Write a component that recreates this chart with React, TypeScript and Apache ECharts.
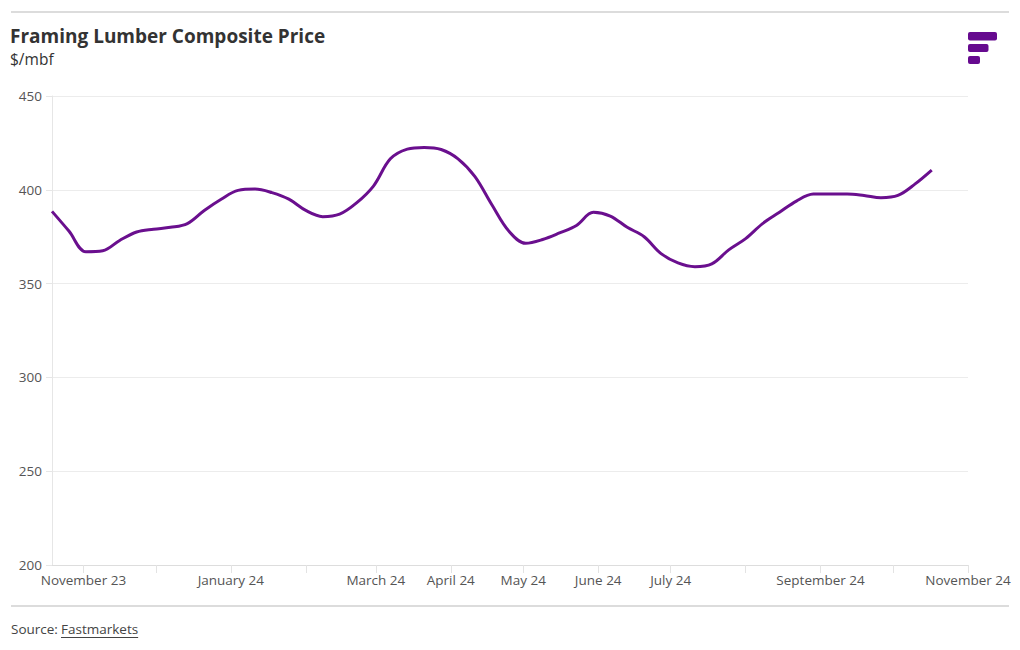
import React, { useEffect, useRef } from "react";
import * as echarts from "echarts";

const dates: string[] = [
  "2023-10-19", "2023-10-26", "2023-11-02", "2023-11-09", "2023-11-16", "2023-11-23", "2023-11-30",
  "2023-12-07", "2023-12-14", "2023-12-21", "2023-12-28", "2024-01-04", "2024-01-11", "2024-01-18",
  "2024-01-25", "2024-02-01", "2024-02-08", "2024-02-15", "2024-02-22", "2024-02-29", "2024-03-07",
  "2024-03-14", "2024-03-21", "2024-03-28", "2024-04-04", "2024-04-11", "2024-04-18", "2024-04-25",
  "2024-05-02", "2024-05-09", "2024-05-16", "2024-05-23", "2024-05-30", "2024-06-06", "2024-06-13",
  "2024-06-20", "2024-06-27", "2024-07-04", "2024-07-11", "2024-07-18", "2024-07-25", "2024-08-01",
  "2024-08-08", "2024-08-15", "2024-08-22", "2024-08-29", "2024-09-05", "2024-09-12", "2024-09-19",
  "2024-09-26", "2024-10-03", "2024-10-10", "2024-10-17",
];

const prices: number[] = [
  388.5, 378, 367, 367.5, 373, 377.5, 379, 380, 382, 389, 395, 399.7, 400.4, 398.5,
  395, 389, 385.7, 387, 393, 402, 416.5, 421.7, 422.6, 421.5, 416.5, 407, 392, 378,
  371.5, 373.5, 377, 381, 388, 386, 380, 375, 366, 361, 359, 360.5, 368, 374,
  382, 388, 394, 397.7, 397.8, 397.8, 397, 395.8, 397, 403, 410.5,
];

const yTicks: number[] = [200, 250, 300, 350, 400, 450];
const monthNames: string[] = [
  "January", "February", "March", "April", "May", "June", "July",
  "August", "September", "October", "November", "December",
];
const hiddenMonths: number[] = [1, 7, 9, 11]; // February, August, October, December

const FONT = "Open Sans";

function measure(text: string, font: string): number {
  const c = document.createElement("canvas").getContext("2d");
  if (!c) return text.length * 7;
  c.font = font;
  return c.measureText(text).width;
}

export default function App() {
  const ref = useRef<HTMLDivElement>(null);

  useEffect(() => {
    if (!ref.current) return;
    const chart = echarts.init(ref.current, undefined, { renderer: "svg" });
    const toTs = (d: string) => new Date(d + "T00:00:00Z").getTime();
    const data = dates.map((d, i) => [toTs(d), prices[i]]);
    const xMin = toTs(dates[0]);
    const xMax = Date.UTC(2024, 10, 1);
    const srcW = measure("Fastmarkets", `13.5px "${FONT}"`);

    chart.setOption({
      animation: false,
      useUTC: true,
      backgroundColor: "#ffffff",
      textStyle: { fontFamily: FONT },
      grid: { left: 52, right: 52, top: 96, bottom: 85, containLabel: false },
      xAxis: {
        type: "time",
        min: xMin,
        max: xMax,
        splitNumber: 12,
        minInterval: 28 * 86400000,
        maxInterval: 31 * 86400000,
        axisLine: { show: true, lineStyle: { color: "#dddddd", width: 1 } },
        axisTick: { show: true, length: 8, lineStyle: { color: "#e3e3e3" } },
        splitLine: { show: false },
        axisLabel: {
          color: "#555555",
          fontSize: 13.5,
          fontFamily: FONT,
          margin: 8,
          hideOverlap: false,
          formatter: (v: number) => {
            const d = new Date(v);
            const m = d.getUTCMonth();
            if (d.getUTCDate() !== 1 || hiddenMonths.indexOf(m) >= 0) return "";
            return monthNames[m] + " " + String(d.getUTCFullYear()).slice(2);
          },
        },
      },
      yAxis: {
        type: "value",
        min: yTicks[0],
        max: yTicks[yTicks.length - 1],
        interval: 50,
        axisLine: { show: true, lineStyle: { color: "#e6e6e6" } },
        axisTick: { show: true, length: 6, lineStyle: { color: "#e6e6e6" } },
        splitLine: { show: true, lineStyle: { color: "#ececec", width: 1 } },
        axisLabel: { color: "#555555", fontSize: 13.5, fontFamily: FONT, margin: 10 },
      },
      series: [
        {
          type: "line",
          data,
          smooth: 0.35,
          showSymbol: false,
          lineStyle: { color: "#6a0f8e", width: 3 },
          itemStyle: { color: "#6a0f8e" },
        },
      ],
      graphic: [
        { type: "line", shape: { x1: 11, y1: 12, x2: 1009, y2: 12 }, style: { stroke: "#dcdcdc", lineWidth: 2 } },
        { type: "line", shape: { x1: 11, y1: 606, x2: 1009, y2: 606 }, style: { stroke: "#dcdcdc", lineWidth: 2 } },
        {
          type: "text",
          x: 10,
          y: 36,
          style: {
            text: "Framing Lumber Composite Price",
            fontFamily: FONT,
            fontWeight: "bold",
            fontSize: 19,
            lineHeight: 19,
            fill: "#333333",
            verticalAlign: "middle",
          },
        },
        {
          type: "text",
          x: 10,
          y: 59,
          style: { text: "$/mbf", fontFamily: FONT, fontSize: 15.5, lineHeight: 16, fill: "#333333", verticalAlign: "middle" },
        },
        { type: "rect", shape: { x: 968, y: 32, width: 29, height: 8.5, r: 2 }, style: { fill: "#660a8f" } },
        { type: "rect", shape: { x: 968, y: 44, width: 20.5, height: 8, r: 2 }, style: { fill: "#660a8f" } },
        { type: "rect", shape: { x: 968, y: 56, width: 12, height: 8, r: 2 }, style: { fill: "#660a8f" } },
        {
          type: "text",
          x: 11,
          y: 629,
          style: { text: "Source: ", fontFamily: FONT, fontSize: 13.5, fill: "#444444", verticalAlign: "middle" },
        },
        {
          type: "text",
          x: 61,
          y: 629,
          style: { text: "Fastmarkets", fontFamily: FONT, fontSize: 13.5, fill: "#444444", verticalAlign: "middle" },
        },
        { type: "line", shape: { x1: 61, y1: 637.5, x2: 61 + srcW, y2: 637.5 }, style: { stroke: "#444444", lineWidth: 1 } },
      ],
    });

    return () => chart.dispose();
  }, []);

  return (
    <div
      ref={ref}
      style={{ position: "fixed", left: 0, top: 0, width: 1020, height: 650, background: "#fff" }}
    />
  );
}
